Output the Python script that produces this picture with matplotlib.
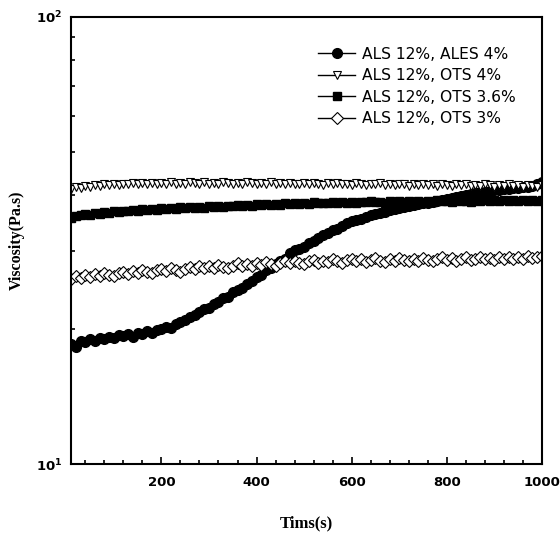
import numpy as np
import matplotlib
matplotlib.use("Agg")
import matplotlib.pyplot as plt
from matplotlib.ticker import MultipleLocator, LogLocator, NullFormatter

# time axis (s)
time_s = list(range(10, 1001, 10))

ales4 = [18.6, 18.3, 18.8, 18.7, 19.0, 18.8, 19.1, 19.0, 19.2, 19.1,
         19.4, 19.3, 19.5, 19.2, 19.6, 19.5, 19.8, 19.6, 19.9, 20.0,
         20.3, 20.2, 20.6, 20.8, 21.0, 21.3, 21.5, 21.9, 22.2, 22.3,
         22.8, 23.0, 23.5, 23.6, 24.2, 24.5, 24.8, 25.3, 25.7, 26.2,
         26.5, 27.1, 27.5, 28.0, 28.5, 28.8, 29.7, 30.1, 30.3, 30.6,
         31.2, 31.6, 32.0, 32.5, 32.8, 33.3, 33.6, 34.0, 34.6, 34.9,
         35.1, 35.3, 35.7, 36.0, 36.2, 36.5, 36.7, 37.0, 37.2, 37.4,
         37.6, 37.8, 38.0, 38.1, 38.3, 38.4, 38.5, 38.8, 39.0, 39.2,
         39.4, 39.5, 39.8, 40.0, 40.1, 40.3, 40.5, 40.6, 40.8, 41.0,
         41.1, 41.2, 41.3, 41.5, 41.4, 41.7, 41.6, 41.9, 42.4, 42.8]

ots4 = [41.2, 41.6, 41.4, 41.9, 41.7, 42.0, 41.8, 42.2, 42.0, 42.3,
        42.1, 42.4, 42.2, 42.5, 42.3, 42.6, 42.3, 42.5, 42.2, 42.6,
        42.4, 42.7, 42.3, 42.6, 42.4, 42.7, 42.5, 42.4, 42.7, 42.3,
        42.6, 42.4, 42.8, 42.5, 42.3, 42.6, 42.4, 42.7, 42.5, 42.3,
        42.6, 42.4, 42.7, 42.2, 42.5, 42.3, 42.6, 42.4, 42.2, 42.5,
        42.3, 42.6, 42.4, 42.1, 42.5, 42.3, 42.6, 42.2, 42.4, 42.1,
        42.5, 42.3, 42.0, 42.4, 42.2, 42.5, 42.1, 42.3, 42.0, 42.4,
        42.2, 41.9, 42.3, 42.1, 42.4, 42.0, 42.2, 41.9, 42.3, 42.1,
        41.8, 42.2, 42.0, 42.3, 41.9, 42.1, 41.8, 42.2, 42.0, 41.7,
        42.1, 41.9, 42.2, 41.8, 42.0, 41.7, 42.1, 41.9, 41.6, 42.0]

ots36 = [35.5, 35.8, 36.0, 36.2, 36.1, 36.5, 36.3, 36.6, 36.5, 36.8,
         36.6, 36.9, 36.8, 37.0, 36.8, 37.1, 37.0, 37.2, 37.0, 37.3,
         37.1, 37.4, 37.2, 37.5, 37.3, 37.5, 37.4, 37.6, 37.4, 37.7,
         37.5, 37.8, 37.6, 37.8, 37.7, 37.9, 37.7, 38.0, 37.8, 38.1,
         37.9, 38.1, 38.0, 38.2, 38.0, 38.3, 38.1, 38.3, 38.2, 38.4,
         38.2, 38.5, 38.3, 38.4, 38.3, 38.6, 38.4, 38.5, 38.3, 38.6,
         38.4, 38.6, 38.5, 38.7, 38.5, 38.6, 38.4, 38.7, 38.5, 38.8,
         38.6, 38.7, 38.5, 38.8, 38.6, 38.7, 38.6, 38.9, 38.7, 38.8,
         38.6, 38.9, 38.7, 38.8, 38.6, 38.9, 38.7, 39.0, 38.8, 38.9,
         38.7, 39.0, 38.8, 38.9, 38.7, 39.0, 38.8, 38.9, 38.8, 39.0]

ots3 = [26.0, 26.3, 26.1, 26.5, 26.2, 26.6, 26.4, 26.8, 26.5, 26.3,
        26.7, 26.9, 26.6, 27.0, 26.8, 27.2, 26.9, 26.7, 27.1, 27.3,
        27.0, 27.4, 27.2, 26.9, 27.3, 27.6, 27.3, 27.7, 27.4, 27.8,
        27.5, 27.9, 27.6, 27.4, 27.8, 28.1, 27.7, 28.0, 27.8, 28.2,
        27.9, 28.3, 28.0, 27.8, 28.2, 28.4, 28.1, 28.5, 28.2, 28.0,
        28.4, 28.6, 28.2, 28.5, 28.3, 28.7, 28.4, 28.2, 28.6, 28.8,
        28.4, 28.7, 28.3, 28.6, 28.9, 28.5, 28.3, 28.7, 28.5, 28.9,
        28.6, 28.4, 28.8, 28.5, 28.9, 28.6, 28.4, 28.8, 29.0, 28.6,
        28.9, 28.5, 28.7, 29.0, 28.6, 28.8, 29.1, 28.7, 28.9, 28.6,
        29.0, 28.8, 29.1, 28.7, 29.0, 28.8, 29.2, 28.9, 29.0, 29.2]

labels = ["ALS 12%, ALES 4%", "ALS 12%, OTS 4%", "ALS 12%, OTS 3.6%", "ALS 12%, OTS 3%"]

tick_font = "DejaVu Sans"
label_font = "Liberation Serif"

fig = plt.figure(figsize=(5.6, 5.36), dpi=100)
ax = fig.add_axes([71/560, 1 - 464/536, (542-71)/560, (464-17)/536])

ax.plot(time_s, ales4, linestyle='none', marker='o', ms=7, color='black', label=labels[0])
ax.plot(time_s, ots4, linestyle='none', marker='v', ms=6, mfc='white', mec='black', mew=0.8, label=labels[1])
ax.plot(time_s, ots36, linestyle='none', marker='s', ms=6, color='black', label=labels[2])
ax.plot(time_s, ots3, linestyle='none', marker='D', ms=6.5, mfc='white', mec='black', mew=0.8, label=labels[3])

ax.set_yscale('log')
ax.set_ylim(10, 100)
ax.set_xlim(10, 1000)
ax.xaxis.set_major_locator(MultipleLocator(200))
ax.xaxis.set_minor_locator(MultipleLocator(40))
ax.yaxis.set_minor_locator(LogLocator(base=10, subs=np.arange(2, 10)))
ax.yaxis.set_minor_formatter(NullFormatter())

for s in ax.spines.values():
    s.set_linewidth(1.5)
ax.tick_params(which='both', direction='in', top=False, right=False, width=1.2)
ax.tick_params(which='major', length=5)
ax.tick_params(which='minor', length=3)
for lab in ax.get_xticklabels() + ax.get_yticklabels():
    lab.set_fontfamily(tick_font)
    lab.set_fontweight('bold')
    lab.set_fontsize(9.5)
ax.tick_params(axis='x', pad=8.5)
ax.tick_params(axis='y', pad=6)

ax.set_xlabel("Tims(s)", fontfamily=label_font, fontweight='bold', fontsize=12, labelpad=19)
ax.set_ylabel("Viscosity(Pa.s)", fontfamily=label_font, fontweight='bold', fontsize=11.5, labelpad=8)

leg = ax.legend(loc='upper right', bbox_to_anchor=(0.975, 0.965), frameon=False,
                prop={'family': tick_font, 'size': 11.2}, handlelength=2.4,
                handletextpad=0.45, labelspacing=0.42, numpoints=1)
for h in leg.legend_handles:
    h.set_linestyle('-')
    h.set_linewidth(1.0)
    h.set_color('black')
leg.legend_handles[1].set_markerfacecolor('white')
leg.legend_handles[3].set_markerfacecolor('white')

fig.savefig("out.png", dpi=100)
